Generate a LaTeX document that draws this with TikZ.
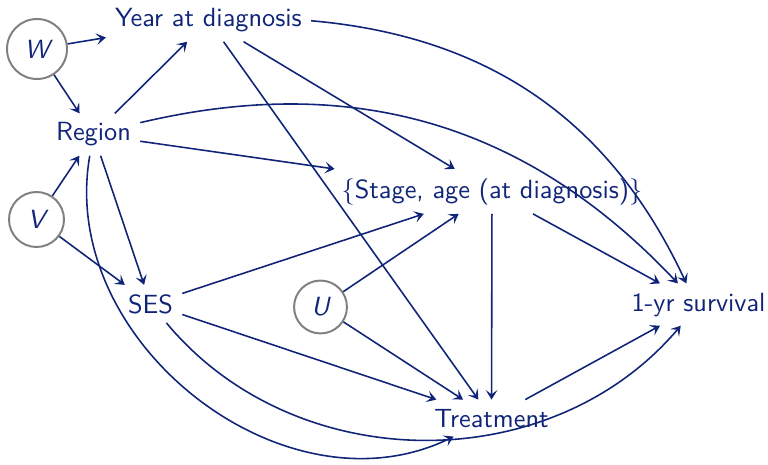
\documentclass[tikz,border=0pt]{standalone}
\usetikzlibrary{arrows.meta}
\definecolor{navy}{RGB}{16,36,120}
\begin{document}
\begin{tikzpicture}[x=0.38pt,y=-0.38pt,
  every node/.style={font=\sffamily,text=navy},
  txt/.style={anchor=base},
  latent/.style={circle,draw=gray,line width=0.75pt,inner sep=0pt,font=\sffamily\itshape},
  edge/.style={draw=navy,line width=0.6pt,-{Stealth[length=3.6pt,width=4.4pt,inset=1.6pt]}}]
\useasboundingbox (0,0) rectangle (768,465);
\node[latent,minimum size=22.8pt] (W) at (37,49) {W};
\node[latent,minimum size=20.9pt] (V) at (36.5,219.5) {V};
\node[latent,minimum size=20.1pt] (U) at (320.5,307) {U};
\node[txt] (Y) at (208.5,27) {Year at diagnosis};
\node[txt] (R) at (93.5,141) {Region};
\node[txt] (S) at (150.5,313) {SES};
\node[txt] (SA) at (492,198) {$\{$Stage, age (at diagnosis)$\}$};
\node[txt] (O) at (698.5,311) {1-yr survival};
\node[txt] (T) at (491.5,427) {Treatment};
\path[edge] (W) -- (Y);
\path[edge] (W) -- (R);
\path[edge] (R) -- (Y);
\path[edge] (V) -- (R);
\path[edge] (V) -- (S);
\path[edge] (R) -- (S);
\path[edge] (R) -- (SA);
\path[edge] (R) to[bend left=30] (O);
\path[edge] (R) to[out=-100,in=206,looseness=1.05] (T);
\path[edge] (Y) -- (SA);
\path[edge] (Y) -- (T);
\path[edge] (Y) to[bend left=30] (O);
\path[edge] (S) -- (SA);
\path[edge] (S) -- (T);
\path[edge] (S) to[bend right=50] (O);
\path[edge] (U) -- (SA);
\path[edge] (U) -- (T);
\path[edge] (SA) -- (T);
\path[edge] (SA) -- (O);
\path[edge] (T) -- (O);
\end{tikzpicture}
\end{document}
